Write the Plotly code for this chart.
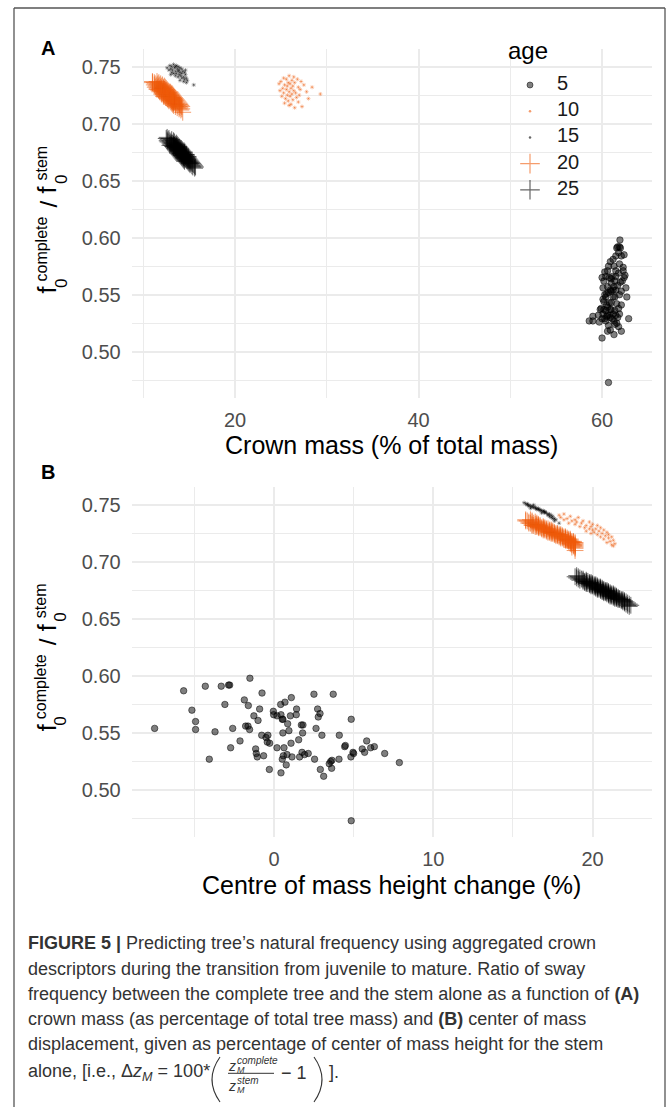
import plotly.graph_objects as go

W, H = 669, 1107

# ---------------- data ----------------
ages = ["5", "10", "15", "20", "25"]

# age 5
age5_ratio = [0.554, 0.587, 0.570, 0.560, 0.553, 0.591, 0.527, 0.551, 0.591, 0.575,
              0.592, 0.592, 0.537, 0.554, 0.543, 0.579, 0.574, 0.598, 0.556, 0.556,
              0.553, 0.565, 0.536, 0.529, 0.561, 0.571, 0.585, 0.532, 0.548, 0.530,
              0.546, 0.548, 0.542, 0.541, 0.518, 0.569, 0.566, 0.565, 0.537, 0.575,
              0.566, 0.562, 0.562, 0.577, 0.550, 0.537, 0.530, 0.527, 0.515, 0.522,
              0.558, 0.552, 0.565, 0.581, 0.541, 0.531, 0.529, 0.571, 0.566, 0.544,
              0.529, 0.557, 0.550, 0.557, 0.533, 0.531, 0.532, 0.584, 0.527, 0.554,
              0.571, 0.564, 0.567, 0.518, 0.548, 0.512, 0.523, 0.525, 0.519, 0.584,
              0.526, 0.527, 0.548, 0.538, 0.539, 0.562, 0.529, 0.533, 0.532, 0.473,
              0.536, 0.533, 0.543, 0.537, 0.538, 0.532, 0.524]
age5_crown = [61.2, 61.8, 60.3, 61.0, 62.1, 61.6, 59.0, 60.5, 62.0, 61.3,
              61.9, 61.7, 60.2, 61.5, 60.8, 60.9, 62.3, 61.95, 60.1, 62.6,
              61.0, 60.0, 61.4, 60.3, 62.0, 61.5, 62.4, 59.6, 62.7, 61.7,
              60.1, 61.2, 61.6, 60.5, 60.6, 61.8, 61.1, 62.4, 61.0, 60.7,
              60.4, 61.4, 62.2, 61.9, 60.3, 59.8, 60.9, 58.6, 61.3, 61.8,
              61.7, 60.7, 60.8, 61.2, 62.1, 60.5, 62.9, 62.3, 61.5, 60.2,
              61.1, 61.3, 61.9, 60.6, 60.1, 59.0, 61.5, 61.5, 60.4, 60.9,
              60.6, 61.0, 62.5, 62.1, 61.4, 60.0, 60.7, 61.6, 60.9, 62.1,
              59.7, 61.3, 60.4, 61.8, 60.6, 60.2, 60.0, 61.9, 60.8, 60.7,
              60.4, 61.2, 61.0, 60.9, 59.9, 60.6, 61.4]
age5_com = [-7.49, -5.67, -5.15, -4.92, -4.92, -4.31, -4.06, -3.70, -3.31, -3.08,
            -2.85, -2.78, -2.72, -2.59, -2.13, -1.86, -1.61, -1.51, -1.78, -1.63,
            -1.53, -1.26, -1.15, -1.05, -1.00, -0.90, -0.75, -1.11, -0.77, -0.65,
            -0.50, -0.38, -0.42, -0.27, -0.29, -0.04, -0.02, 0.19, 0.19, 0.42,
            0.44, 0.52, 0.56, 0.69, 0.56, 0.63, 0.59, 0.52, 0.44, 0.77,
            0.86, 0.94, 1.03, 1.09, 1.07, 0.82, 1.13, 1.42, 1.40, 1.55,
            1.61, 1.72, 1.80, 1.82, 1.76, 1.92, 2.15, 2.51, 2.55, 2.64,
            2.74, 2.78, 2.89, 2.91, 3.01, 3.12, 3.47, 3.56, 3.62, 3.72,
            3.64, 4.08, 4.10, 4.44, 4.48, 4.85, 4.83, 4.96, 5.00, 4.85,
            5.54, 5.69, 5.82, 6.07, 6.30, 6.95, 7.87]

# age 10
age10_ratio = [0.742, 0.741, 0.740, 0.739, 0.739, 0.738, 0.737, 0.737, 0.736, 0.736,
               0.735, 0.735, 0.734, 0.734, 0.733, 0.733, 0.732, 0.732, 0.731, 0.731,
               0.730, 0.730, 0.729, 0.729, 0.728, 0.728, 0.727, 0.727, 0.726, 0.726,
               0.725, 0.725, 0.724, 0.724, 0.723, 0.722, 0.722, 0.721, 0.720, 0.719,
               0.718, 0.717, 0.716, 0.715, 0.714]
age10_crown = [25.9, 26.4, 25.3, 26.8, 25.6, 26.2, 25.0, 27.2, 25.8, 26.5,
               24.8, 26.0, 27.5, 25.4, 26.3, 25.7, 28.4, 26.9, 25.2, 26.1,
               27.1, 25.6, 26.4, 24.9, 27.8, 25.9, 26.6, 25.3, 29.3, 26.2,
               25.7, 27.0, 26.0, 25.1, 26.7, 25.5, 28.0, 26.3, 25.8, 26.9,
               25.4, 26.1, 25.9, 27.3, 26.5]
age10_com = [18.2, 17.9, 18.6, 18.0, 19.1, 18.4, 18.9, 18.2, 19.4, 18.7,
             19.0, 19.8, 18.5, 19.3, 20.0, 18.9, 19.6, 20.3, 19.2, 19.9,
             20.5, 19.5, 20.2, 19.8, 20.7, 20.0, 19.6, 20.4, 20.9, 20.1,
             20.6, 19.9, 21.0, 20.3, 20.8, 21.2, 20.5, 21.0, 20.7, 21.3,
             21.1, 20.9, 21.4, 21.2, 21.3]

# age 15
age15_ratio = [0.752, 0.751, 0.751, 0.750, 0.750, 0.749, 0.749, 0.749, 0.748, 0.748,
               0.748, 0.747, 0.747, 0.747, 0.746, 0.746, 0.746, 0.745, 0.745, 0.745,
               0.744, 0.744, 0.744, 0.743, 0.743, 0.742, 0.742, 0.741, 0.741, 0.740,
               0.740, 0.739, 0.738, 0.738, 0.737, 0.736, 0.734, 0.750, 0.747, 0.743]
age15_crown = [13.3, 12.9, 13.6, 13.1, 13.8, 12.6, 13.4, 14.0, 13.0, 13.7,
               14.2, 13.2, 13.9, 12.8, 13.5, 14.3, 13.8, 13.1, 14.0, 14.5,
               13.6, 13.3, 14.2, 13.9, 14.6, 13.5, 14.1, 14.4, 13.8, 14.7,
               14.2, 14.5, 14.0, 14.8, 14.4, 14.7, 15.5, 13.5, 14.6, 13.0]
age15_com = [15.7, 15.8, 15.9, 16.0, 15.9, 16.1, 16.2, 16.0, 16.3, 16.2,
             16.4, 16.4, 16.5, 16.6, 16.6, 16.5, 16.7, 16.8, 16.7, 16.9,
             16.9, 17.0, 17.0, 17.1, 17.0, 17.2, 17.3, 17.2, 17.4, 17.3,
             17.5, 17.4, 17.6, 17.5, 17.7, 17.6, 17.9, 16.3, 16.1, 16.8]

# age 20
age20_ratio = [0.737, 0.737,
               0.736, 0.736, 0.736,
               0.735, 0.735, 0.735,
               0.734, 0.734, 0.734, 0.734,
               0.733, 0.733, 0.733, 0.733,
               0.732, 0.732, 0.732, 0.732, 0.732,
               0.731, 0.731, 0.731, 0.731, 0.731,
               0.730, 0.730, 0.730, 0.730, 0.730,
               0.729, 0.729, 0.729, 0.729, 0.729,
               0.728, 0.728, 0.728, 0.728, 0.728,
               0.727, 0.727, 0.727, 0.727, 0.727,
               0.726, 0.726, 0.726, 0.726, 0.726,
               0.725, 0.725, 0.725, 0.725, 0.725,
               0.724, 0.724, 0.724, 0.724, 0.724,
               0.723, 0.723, 0.723, 0.723, 0.723,
               0.722, 0.722, 0.722, 0.722, 0.722,
               0.721, 0.721, 0.721, 0.721, 0.721,
               0.720, 0.720, 0.720, 0.720, 0.720,
               0.719, 0.719, 0.719, 0.719,
               0.718, 0.718, 0.718, 0.718,
               0.717, 0.717, 0.717, 0.717,
               0.716, 0.716, 0.716,
               0.715, 0.715, 0.715,
               0.714, 0.714,
               0.713, 0.713,
               0.712, 0.710]
age20_crown = [11.0, 11.5,
               11.2, 11.7, 11.0,
               11.3, 11.9, 11.6,
               11.2, 11.8, 12.1, 11.5,
               11.4, 12.0, 11.7, 12.3,
               11.6, 12.2, 11.9, 11.3, 12.4,
               12.0, 11.5, 12.5, 11.8, 12.2,
               11.7, 12.3, 12.6, 12.0, 11.5,
               12.4, 11.9, 12.7, 12.2, 11.7,
               12.0, 12.5, 12.9, 12.3, 11.8,
               12.6, 12.1, 13.0, 12.4, 12.8,
               12.2, 12.7, 13.1, 12.5, 12.0,
               12.8, 12.3, 13.2, 12.6, 13.0,
               12.4, 12.9, 13.3, 12.7, 12.2,
               13.0, 12.5, 13.4, 12.8, 13.2,
               12.6, 13.1, 13.5, 12.9, 13.3,
               13.2, 12.7, 13.6, 13.0, 13.4,
               12.8, 13.3, 13.7, 13.1, 13.5,
               13.4, 13.0, 13.8, 13.2,
               13.1, 13.6, 13.9, 13.3,
               13.5, 13.9, 13.2, 14.0,
               13.7, 13.3, 14.1,
               13.9, 13.5, 14.2,
               14.0, 13.7,
               14.2, 13.9,
               14.1, 14.3]
age20_com = [15.8, 16.1,
             16.2, 15.9, 15.8,
             16.0, 16.4, 16.2,
             16.3, 16.1, 16.5, 16.0,
             16.5, 16.2, 16.4, 16.6,
             16.3, 16.6, 16.5, 16.7, 16.2,
             16.7, 16.4, 16.6, 16.9, 16.5,
             16.8, 16.6, 17.0, 16.7, 16.9,
             17.0, 16.8, 17.2, 16.9, 17.1,
             17.1, 17.3, 17.0, 17.4, 16.9,
             17.2, 17.4, 17.1, 17.5, 17.3,
             17.5, 17.3, 17.6, 17.4, 17.2,
             17.6, 17.4, 17.7, 17.5, 17.8,
             17.7, 17.9, 17.6, 17.8, 18.0,
             17.8, 18.0, 17.9, 18.1, 17.7,
             18.0, 18.2, 17.9, 18.1, 18.3,
             18.1, 18.3, 18.2, 18.4, 18.0,
             18.3, 18.5, 18.2, 18.4, 18.6,
             18.4, 18.6, 18.5, 18.3,
             18.5, 18.7, 18.6, 18.8,
             18.6, 18.8, 18.7, 18.9,
             18.7, 18.9, 18.6,
             18.8, 18.7, 18.9,
             18.9, 18.8,
             18.9, 18.7,
             18.9, 18.9]

# age 25
age25_ratio = [0.688,
               0.687, 0.687,
               0.686, 0.686,
               0.685, 0.685, 0.685,
               0.684, 0.684, 0.684,
               0.683, 0.683, 0.683, 0.683,
               0.682, 0.682, 0.682, 0.682,
               0.681, 0.681, 0.681, 0.681, 0.681,
               0.680, 0.680, 0.680, 0.680, 0.680,
               0.679, 0.679, 0.679, 0.679, 0.679,
               0.678, 0.678, 0.678, 0.678, 0.678,
               0.677, 0.677, 0.677, 0.677, 0.677,
               0.676, 0.676, 0.676, 0.676, 0.676,
               0.675, 0.675, 0.675, 0.675, 0.675,
               0.674, 0.674, 0.674, 0.674, 0.674,
               0.673, 0.673, 0.673, 0.673, 0.673,
               0.672, 0.672, 0.672, 0.672, 0.672,
               0.671, 0.671, 0.671, 0.671, 0.671,
               0.670, 0.670, 0.670, 0.670, 0.670,
               0.669, 0.669, 0.669, 0.669,
               0.668, 0.668, 0.668, 0.668,
               0.667, 0.667, 0.667, 0.667,
               0.666, 0.666, 0.666,
               0.665, 0.665, 0.665,
               0.664, 0.664,
               0.663, 0.663,
               0.662, 0.662,
               0.661]
age25_crown = [12.6,
               12.8, 12.5,
               12.7, 13.1,
               12.9, 12.6, 13.3,
               13.0, 13.4, 12.7,
               13.2, 12.9, 13.6, 13.1,
               13.3, 13.0, 13.7, 13.5,
               13.4, 13.1, 13.8, 13.6, 12.9,
               13.5, 13.2, 13.9, 13.7, 13.3,
               13.6, 13.3, 14.0, 13.8, 13.5,
               13.7, 13.4, 14.1, 13.9, 13.6,
               13.8, 13.5, 14.2, 14.0, 13.7,
               13.9, 13.6, 14.3, 14.1, 13.8,
               14.0, 13.7, 14.4, 14.2, 14.5,
               14.1, 13.8, 14.5, 14.3, 14.0,
               14.2, 13.9, 14.6, 14.4, 14.7,
               14.3, 14.0, 14.7, 14.5, 14.2,
               14.4, 14.1, 14.8, 14.6, 14.9,
               14.5, 14.2, 14.9, 14.7, 14.4,
               14.6, 14.3, 15.0, 14.8,
               14.7, 14.4, 15.1, 14.9,
               14.8, 14.5, 15.2, 15.0,
               14.9, 15.3, 15.1,
               15.0, 15.4, 15.2,
               15.1, 15.5,
               15.3, 15.6,
               15.4, 15.7,
               15.6]
age25_com = [19.0,
             19.1, 18.9,
             19.2, 19.0,
             19.3, 19.1, 19.4,
             19.4, 19.6, 19.2,
             19.5, 19.7, 19.4, 19.6,
             19.6, 19.8, 19.5, 19.9,
             19.8, 19.7, 20.0, 19.9, 19.6,
             19.9, 20.1, 19.8, 20.0, 20.2,
             20.0, 20.2, 20.1, 19.9, 20.3,
             20.2, 20.4, 20.1, 20.3, 20.5,
             20.3, 20.5, 20.4, 20.2, 20.6,
             20.5, 20.7, 20.4, 20.6, 20.3,
             20.6, 20.8, 20.5, 20.7, 20.9,
             20.7, 20.9, 20.8, 20.6, 21.0,
             20.9, 21.1, 20.8, 21.0, 20.7,
             21.0, 21.2, 20.9, 21.1, 21.3,
             21.1, 21.3, 21.2, 21.0, 21.4,
             21.3, 21.5, 21.2, 21.4, 21.1,
             21.4, 21.6, 21.3, 21.5,
             21.5, 21.7, 21.6, 21.4,
             21.7, 21.9, 21.6, 21.8,
             21.8, 22.0, 21.9,
             21.9, 22.1, 22.0,
             22.0, 22.2,
             22.1, 22.3,
             22.2, 22.4,
             22.3]

ratios = [age5_ratio, age10_ratio, age15_ratio, age20_ratio, age25_ratio]
crowns = [age5_crown, age10_crown, age15_crown, age20_crown, age25_crown]
coms = [age5_com, age10_com, age15_com, age20_com, age25_com]

# ---------------- styling ----------------
ORANGE = "238,90,10"
BLACK = "0,0,0"
styles = [
    dict(symbol="circle", size=6.5, color=f"rgba({BLACK},0.5)",
         line=dict(color=f"rgba({BLACK},0.5)", width=1)),
    dict(symbol="asterisk-open", size=3.5, color=f"rgba({ORANGE},0.55)",
         line=dict(color=f"rgba({ORANGE},0.55)", width=0.6)),
    dict(symbol="asterisk-open", size=3.5, color=f"rgba({BLACK},0.55)",
         line=dict(color=f"rgba({BLACK},0.55)", width=0.6)),
    dict(symbol="cross-thin", size=12, color=f"rgba({ORANGE},0.6)",
         line=dict(color=f"rgba({ORANGE},0.6)", width=1)),
    dict(symbol="cross-thin", size=12, color=f"rgba({BLACK},0.6)",
         line=dict(color=f"rgba({BLACK},0.6)", width=1)),
]
legend_styles = [
    dict(symbol="circle", size=6, color=f"rgba({BLACK},0.5)",
         line=dict(color=f"rgba({BLACK},0.5)", width=1)),
    dict(symbol="circle", size=2.5, color=f"rgba({ORANGE},0.6)", line=dict(width=0)),
    dict(symbol="circle", size=2.5, color=f"rgba({BLACK},0.6)", line=dict(width=0)),
    dict(symbol="cross-thin", size=14, color=f"rgba({ORANGE},0.6)",
         line=dict(color=f"rgba({ORANGE},0.6)", width=1.2)),
    dict(symbol="cross-thin", size=14, color=f"rgba({BLACK},0.6)",
         line=dict(color=f"rgba({BLACK},0.6)", width=1.2)),
]

FONT = "Liberation Sans, Arial, Helvetica, sans-serif"
CAP_FONT = "Liberation Sans, Arial, Helvetica, sans-serif"
CAP_COLOR = "#333333"
TICK_COLOR = "#4D4D4D"
GRID = "#EBEBEB"


def px(x):
    return x / W


def py(y):
    return 1 - y / H


fig = go.Figure()

for i, age in enumerate(ages):
    fig.add_trace(go.Scatter(x=crowns[i], y=ratios[i], mode="markers",
                             marker=styles[i], xaxis="x", yaxis="y",
                             showlegend=False, name=age))
for i, age in enumerate(ages):
    fig.add_trace(go.Scatter(x=coms[i], y=ratios[i], mode="markers",
                             marker=styles[i], xaxis="x2", yaxis="y2",
                             showlegend=False, name=age))

# legend keys on a pixel overlay
leg_x, leg_y0, leg_dy = 530, 85, 26.2
for i, age in enumerate(ages):
    fig.add_trace(go.Scatter(x=[leg_x], y=[leg_y0 + i * leg_dy], mode="markers",
                             marker=legend_styles[i], xaxis="x3", yaxis="y3",
                             showlegend=False, hoverinfo="skip"))
fig.add_trace(go.Scatter(x=[leg_x + 27] * len(ages),
                         y=[leg_y0 + i * leg_dy for i in range(len(ages))],
                         text=ages, mode="text", textposition="middle right",
                         textfont=dict(size=20, color="#1A1A1A", family=FONT),
                         xaxis="x3", yaxis="y3", showlegend=False, hoverinfo="skip"))

x_dom = [px(131.7), px(651.7)]
axis_common = dict(showline=False, zeroline=False, ticks="", gridcolor=GRID,
                   gridwidth=1.6, tickfont=dict(size=20, color=TICK_COLOR, family=FONT))

fig.update_layout(
    width=W, height=H, margin=dict(l=0, r=0, t=0, b=0),
    paper_bgcolor="white", plot_bgcolor="rgba(0,0,0,0)",
    xaxis=dict(domain=x_dom, anchor="y", range=[8.74, 65.41], tick0=0, dtick=20,
               ticklabelstandoff=8,
               minor=dict(dtick=10, showgrid=True, gridcolor=GRID, gridwidth=0.8),
               **axis_common),
    yaxis=dict(domain=[py(398), py(49)], anchor="x", range=[0.4594, 0.7655],
               tick0=0.5, dtick=0.05, tickformat=".2f", ticklabelstandoff=10,
               minor=dict(dtick=0.025, showgrid=True, gridcolor=GRID, gridwidth=0.8),
               **axis_common),
    xaxis2=dict(domain=x_dom, anchor="y2", range=[-8.93, 23.71], tick0=0, dtick=10,
                ticklabelstandoff=8,
                minor=dict(dtick=5, showgrid=True, gridcolor=GRID, gridwidth=0.8),
                **axis_common),
    yaxis2=dict(domain=[py(836.7), py(486.7)], anchor="x2", range=[0.459, 0.766],
                tick0=0.5, dtick=0.05, tickformat=".2f", ticklabelstandoff=10,
                minor=dict(dtick=0.025, showgrid=True, gridcolor=GRID, gridwidth=0.8),
                **axis_common),
    xaxis3=dict(domain=[0, 1], anchor="y3", range=[0, W], visible=False, fixedrange=True),
    yaxis3=dict(domain=[0, 1], anchor="x3", range=[H, 0], visible=False, fixedrange=True),
)

ann = []


def text(x, y, s, size, color="black", xanchor="center", family=FONT, angle=0, yanchor="middle"):
    ann.append(dict(x=x, y=y, xref="x3", yref="y3", text=s, showarrow=False,
                    xanchor=xanchor, yanchor=yanchor, textangle=angle,
                    font=dict(size=size, color=color, family=family)))


# panel tags
text(48, 48, "<b>A</b>", 20)
text(48, 472, "<b>B</b>", 20)

# axis titles
text(391.7, 445, "Crown mass (% of total mass)", 25)
text(391.7, 885, "Centre of mass height change (%)", 25)

# rotated y title  f_0^complete / f_0^stem  with stacked sub/superscripts
ylab_parts = [
    # (text, size, x centre, y centre relative to panel A)
    ("f", 25, 46.5, 290),
    ("0", 17, 61.0, 284),
    ("complete", 16, 40.5, 249),
    ("/", 24, 47.5, 204),
    ("f", 25, 46.5, 190),
    ("0", 17, 61.0, 180),
    ("stem", 16, 40.5, 163),
]
for dy in (0, 437.7):
    for s, size, xc, yc in ylab_parts:
        text(xc, yc + dy, s, size, angle=-90)

# legend title
text(528, 50, "age", 24)

# caption
cap_lines = [
    "<b>FIGURE 5 |</b> Predicting tree\u2019s natural frequency using aggregated crown",
    "descriptors during the transition from juvenile to mature. Ratio of sway",
    "frequency between the complete tree and the stem alone as a function of <b>(A)</b>",
    "crown mass (as percentage of total tree mass) and <b>(B)</b> center of mass",
    "displacement, given as percentage of center of mass height for the stem",
]
cap_y = [943.3, 968.7, 994.0, 1019.3, 1044.3]
for s, yy in zip(cap_lines, cap_y):
    text(26, yy, s, 18, color=CAP_COLOR, xanchor="left", family=CAP_FONT)

# last caption line with the displacement formula
text(26, 1072, "alone, [i.e., \u0394<i>z</i><sub><i>M</i></sub> = 100*", 18,
     color=CAP_COLOR, xanchor="left", family=CAP_FONT)
fx = -8  # horizontal shift of the fraction group
text(240 + fx, 1066, "<i>z</i>", 14, color=CAP_COLOR, family=CAP_FONT)
text(243 + fx, 1060, "<i>complete</i>", 10, color=CAP_COLOR, xanchor="left", family=CAP_FONT)
text(243 + fx, 1069.5, "<i>M</i>", 9, color=CAP_COLOR, xanchor="left", family=CAP_FONT)
text(240 + fx, 1086, "<i>z</i>", 14, color=CAP_COLOR, family=CAP_FONT)
text(243 + fx, 1080.5, "<i>stem</i>", 10, color=CAP_COLOR, xanchor="left", family=CAP_FONT)
text(243 + fx, 1090, "<i>M</i>", 9, color=CAP_COLOR, xanchor="left", family=CAP_FONT)
text(287 + fx, 1073, "\u2212 1", 18, color=CAP_COLOR, xanchor="left", family=CAP_FONT)
text(335 + fx, 1072, "].", 18, color=CAP_COLOR, xanchor="left", family=CAP_FONT)

shapes = [
    # outer frame
    dict(type="line", xref="x3", yref="y3", x0=14, x1=14, y0=8, y1=H,
         line=dict(color="#555555", width=1.3)),
    dict(type="line", xref="x3", yref="y3", x0=665, x1=665, y0=8, y1=H,
         line=dict(color="#555555", width=1.3)),
    dict(type="line", xref="x3", yref="y3", x0=14, x1=665, y0=8, y1=8,
         line=dict(color="#555555", width=1.3)),
    # fraction bar and parentheses
    dict(type="line", xref="x3", yref="y3", x0=236 + fx, x1=282 + fx, y0=1073.3, y1=1073.3,
         line=dict(color=CAP_COLOR, width=1)),
    dict(type="path", xref="x3", yref="y3",
         path=f"M {228 + fx} 1057 Q {212 + fx} 1079.5 {228 + fx} 1102",
         line=dict(color=CAP_COLOR, width=1.1)),
    dict(type="path", xref="x3", yref="y3",
         path=f"M {322 + fx} 1057 Q {338 + fx} 1079.5 {322 + fx} 1102",
         line=dict(color=CAP_COLOR, width=1.1)),
]

fig.update_layout(annotations=ann, shapes=shapes)
fig.write_html("out.html")
